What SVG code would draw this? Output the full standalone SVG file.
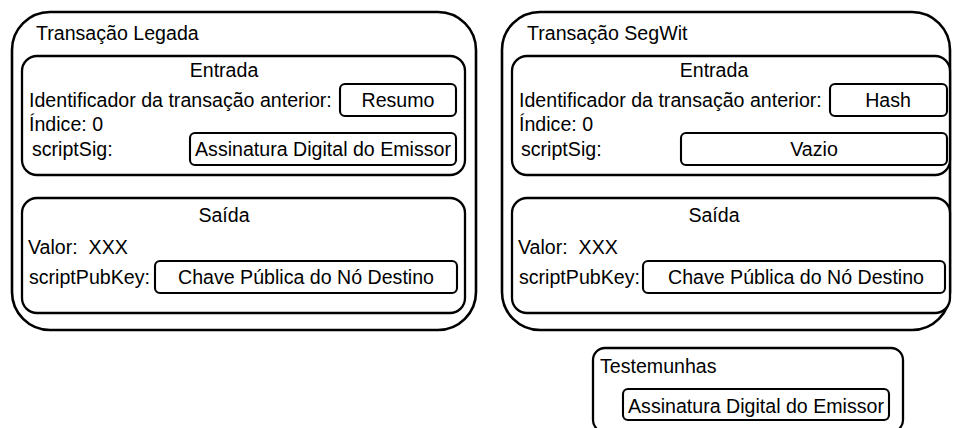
<svg xmlns="http://www.w3.org/2000/svg" width="953" height="428" viewBox="0 0 953 428">
<style>
text{font-family:"Liberation Sans",Arial,sans-serif;font-size:19.6px;fill:#000}
.m{text-anchor:middle}
.outer{fill:#fff;stroke:#000;stroke-width:2.6}
.inner{fill:#fff;stroke:#000;stroke-width:2.3}
.field{fill:#fff;stroke:#000;stroke-width:2.1}
</style>
<rect width="953" height="428" fill="#fff"/>
<g id="legada">
<rect class="outer" x="12" y="12" width="464" height="318" rx="38"/>
<text x="36" y="40">Transação Legada</text>
<g id="legada-entrada">
<rect class="inner" x="22" y="56" width="443" height="119" rx="15"/>
<text class="m" x="224" y="77">Entrada</text>
<text x="29" y="106.5">Identificador da transação anterior:</text>
<rect class="field" x="340" y="84" width="116" height="32" rx="5"/>
<text class="m" x="398" y="106.5">Resumo</text>
<text x="29" y="130.5">Índice: 0</text>
<text x="32" y="156">scriptSig:</text>
<rect class="field" x="190" y="133" width="266" height="32" rx="5"/>
<text class="m" x="323" y="156">Assinatura Digital do Emissor</text>
</g>
<g id="legada-saida">
<rect class="inner" x="22" y="198" width="443" height="115" rx="15"/>
<text class="m" x="224" y="221.5">Saída</text>
<text x="28" y="254" xml:space="preserve">Valor:  XXX</text>
<text x="29" y="284">scriptPubKey:</text>
<rect class="field" x="155" y="261" width="302" height="32" rx="5"/>
<text class="m" x="306" y="284">Chave Pública do Nó Destino</text>
</g>
</g>
<g id="segwit">
<rect class="outer" x="502" y="12" width="448" height="318" rx="38"/>
<text x="527" y="40">Transação SegWit</text>
<g id="segwit-entrada">
<rect class="inner" x="512" y="56" width="438" height="119" rx="15"/>
<text class="m" x="714" y="77">Entrada</text>
<text x="519" y="106.5">Identificador da transação anterior:</text>
<rect class="field" x="830" y="84" width="117" height="32" rx="5"/>
<text class="m" x="888" y="106.5">Hash</text>
<text x="519" y="130.5">Índice: 0</text>
<text x="521" y="156">scriptSig:</text>
<rect class="field" x="681" y="133" width="266" height="32" rx="5"/>
<text class="m" x="814" y="156">Vazio</text>
</g>
<g id="segwit-saida">
<rect class="inner" x="512" y="198" width="438" height="115" rx="15"/>
<text class="m" x="714" y="221.5">Saída</text>
<text x="518" y="254" xml:space="preserve">Valor:  XXX</text>
<text x="519" y="284">scriptPubKey:</text>
<rect class="field" x="643" y="261" width="302" height="32" rx="5"/>
<text class="m" x="796" y="284">Chave Pública do Nó Destino</text>
</g>
</g>
<g id="testemunhas">
<rect class="inner" x="593" y="348" width="310" height="84" rx="12"/>
<text x="600" y="373">Testemunhas</text>
<rect class="field" x="623" y="389" width="266" height="31" rx="5"/>
<text class="m" x="756" y="412.5">Assinatura Digital do Emissor</text>
</g>
</svg>
